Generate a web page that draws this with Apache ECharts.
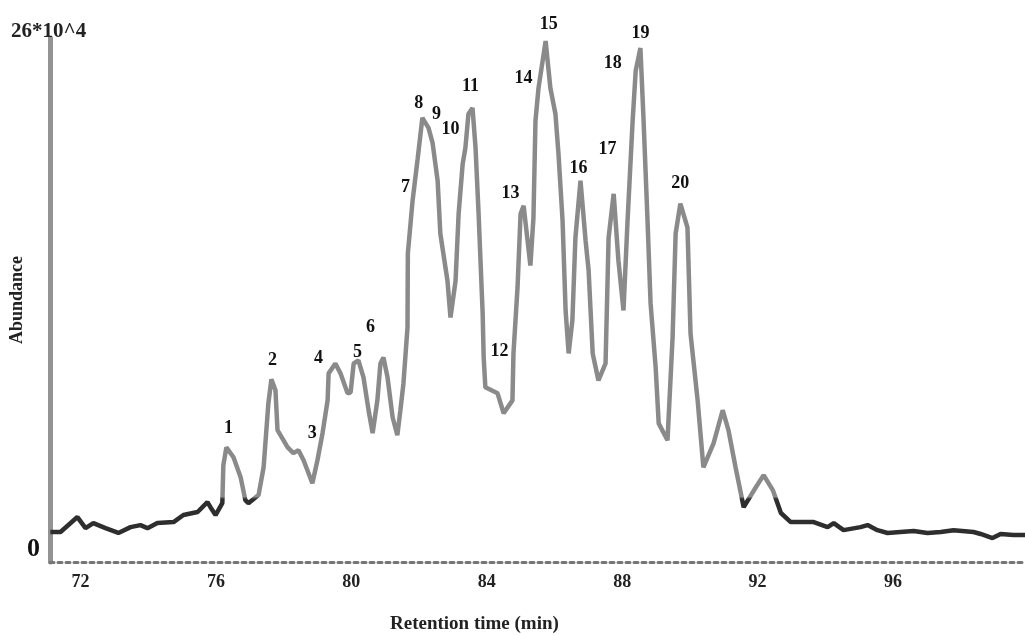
<!DOCTYPE html>
<html>
<head>
<meta charset="utf-8">
<style>
  html, body { margin: 0; padding: 0; background: #fff; }
  #main { width: 1025px; height: 635px; }
</style>
<script src="https://cdn.jsdelivr.net/npm/echarts@6/dist/echarts.min.js"></script>
</head>
<body>
<div id="main"></div>
<script>
// retention time (min) and abundance (x10^4)
var retentionTime = [
  71.11, 71.41, 71.91, 72.15, 72.38, 72.74, 73.12, 73.48, 73.77, 73.98,
  74.27, 74.75, 75.04, 75.46, 75.75, 75.84, 75.99, 76.19, 76.22, 76.31,
  76.52, 76.73, 76.87, 76.96, 77.26, 77.41, 77.55, 77.64, 77.76, 77.82,
  78.12, 78.29, 78.44, 78.59, 78.85, 79.0, 79.15, 79.3, 79.33, 79.53,
  79.68, 79.89, 79.98, 80.07, 80.21, 80.36, 80.51, 80.63, 80.77, 80.86,
  80.95, 81.07, 81.22, 81.36, 81.45, 81.54, 81.66, 81.67, 81.81, 81.96,
  82.1, 82.28, 82.4, 82.55, 82.63, 82.84, 82.93, 83.08, 83.17, 83.29,
  83.37, 83.46, 83.58, 83.67, 83.76, 83.88, 83.91, 83.96, 84.32, 84.5,
  84.76, 84.79, 84.91, 85.0, 85.09, 85.29, 85.38, 85.44, 85.53, 85.74,
  85.88, 86.03, 86.12, 86.24, 86.33, 86.42, 86.53, 86.62, 86.77, 86.92,
  87.01, 87.13, 87.3, 87.51, 87.6, 87.75, 87.89, 88.04, 88.16, 88.31,
  88.4, 88.54, 88.63, 88.75, 88.84, 88.99, 89.08, 89.34, 89.49, 89.58,
  89.72, 89.93, 90.02, 90.23, 90.4, 90.7, 90.97, 91.14, 91.35, 91.59,
  91.95, 92.18, 92.45, 92.69, 92.98, 93.28, 93.66, 94.07, 94.25, 94.54,
  95.04, 95.25, 95.54, 95.84, 96.22, 96.61, 97.02, 97.41, 97.79, 98.38,
  98.59, 98.94, 99.18, 99.56, 99.9
];
var abundance = [
  1.49, 1.49, 2.23, 1.68, 1.93, 1.68, 1.44, 1.73, 1.83, 1.68,
  1.93, 1.98, 2.33, 2.48, 2.97, 2.72, 2.33, 2.92, 4.8, 5.69,
  5.2, 4.21, 3.07, 2.92, 3.32, 4.7, 7.87, 9.06, 8.52, 6.54,
  5.69, 5.4, 5.55, 5.05, 3.91, 5.05, 6.39, 8.02, 9.36, 9.85,
  9.36, 8.37, 8.42, 9.85, 10.0, 9.16, 7.53, 6.39, 8.02, 9.85,
  10.15, 9.16, 7.18, 6.29, 7.53, 8.86, 11.64, 15.3, 17.93, 20.01,
  22.04, 21.54, 20.8, 18.92, 16.29, 13.96, 12.13, 13.96, 17.28, 19.76,
  20.55, 22.23, 22.53, 20.55, 17.28, 12.33, 10.15, 8.67, 8.37, 7.38,
  8.02, 10.35, 13.62, 17.28, 17.68, 14.71, 17.08, 21.89, 23.52, 25.85,
  23.52, 22.23, 20.25, 16.94, 12.48, 10.35, 11.98, 16.09, 18.92, 15.95,
  14.46, 10.35, 9.01, 9.85, 16.09, 18.27, 14.96, 12.48, 16.94, 21.89,
  24.36, 25.5, 22.04, 16.94, 12.83, 9.66, 6.88, 6.04, 11.14, 16.29,
  17.78, 16.59, 11.34, 8.02, 4.7, 5.89, 7.53, 6.54, 4.7, 2.72,
  3.71, 4.31, 3.57, 2.43, 1.98, 1.98, 1.98, 1.73, 1.93, 1.58,
  1.73, 1.83, 1.58, 1.44, 1.49, 1.54, 1.44, 1.49, 1.58, 1.49,
  1.39, 1.19, 1.39, 1.34, 1.34
];

// peak numbers and where their labels sit
var peakNames = ['1', '2', '3', '4', '5', '6', '7', '8', '9', '10',
  '11', '12', '13', '14', '15', '16', '17', '18', '19', '20'];
var peakLabelTime = [76.37, 77.67, 78.85, 79.03, 80.18, 80.57, 81.6, 81.99, 82.52, 82.93,
  83.52, 84.38, 84.7, 85.09, 85.83, 86.71, 87.57, 87.72, 88.54, 89.72];
var peakLabelHeight = [6.64, 10.0, 6.39, 10.1, 10.4, 11.64, 18.57, 22.78, 22.23, 21.49,
  23.62, 10.45, 18.27, 24.02, 26.69, 19.51, 20.5, 24.76, 26.25, 18.77];

var xTicks = [72, 76, 80, 84, 88, 92, 96];

var serif = '"Liberation Serif", "DejaVu Serif", serif';

var trace = retentionTime.map(function (t, i) { return [t, abundance[i]]; });
var peaks = peakNames.map(function (n, i) {
  return { name: n, value: [peakLabelTime[i], peakLabelHeight[i]] };
});

// baseline part of the trace is darker than the peaks
var traceColor = new echarts.graphic.LinearGradient(0, 562, 0, 38, [
  { offset: 0, color: '#2e2e2e' },
  { offset: 0.12, color: '#2e2e2e' },
  { offset: 0.125, color: '#8a8a8a' },
  { offset: 1, color: '#8a8a8a' }
], true);

var chart = echarts.init(document.getElementById('main'));
var option = {
  animation: false,
  backgroundColor: '#fff',
  title: [
    {
      text: '26*10^4', left: 6, top: 16,
      textStyle: { fontFamily: serif, fontSize: 21, fontWeight: 'bold', color: '#222' }
    },
    {
      text: 'Retention time (min)', left: 385, top: 610,
      textStyle: { fontFamily: serif, fontSize: 19, fontWeight: 'bold', color: '#222' }
    }
  ],
  grid: {
    left: 50, right: 0, top: 38, bottom: 73,
    containLabel: false,
    outerBoundsMode: 'none'
  },
  xAxis: {
    type: 'value',
    min: 71.1,
    max: 99.9,
    axisLine: { lineStyle: { color: '#777', width: 3, type: [4, 4] } },
    axisTick: { show: false },
    splitLine: { show: false },
    axisLabel: {
      customValues: xTicks,
      margin: 11,
      fontFamily: serif, fontSize: 18, fontWeight: 'bold', color: '#222'
    }
  },
  yAxis: {
    type: 'value',
    min: 0,
    max: 26,
    interval: 26,
    name: 'Abundance',
    nameLocation: 'middle',
    nameGap: 24,
    nameMoveOverlap: false,
    nameTextStyle: { fontFamily: serif, fontSize: 18, fontWeight: 'bold', color: '#222' },
    axisLine: { show: true, lineStyle: { color: '#939393', width: 5 } },
    axisTick: { show: false },
    splitLine: { show: false },
    axisLabel: {
      margin: 10,
      verticalAlign: 'bottom',
      fontFamily: serif, fontSize: 26, fontWeight: 'bold', color: '#111',
      formatter: function (v) { return v === 0 ? '0' : ''; }
    }
  },
  series: [
    {
      type: 'line',
      data: trace,
      showSymbol: false,
      lineStyle: { width: 4.5, color: traceColor },
      z: 2
    },
    {
      type: 'scatter',
      data: peaks,
      symbolSize: 0.1,
      clip: false,
      itemStyle: { color: '#111', opacity: 1 },
      label: {
        show: true,
        position: 'inside',
        formatter: '{b}',
        fontFamily: serif, fontSize: 18, fontWeight: 'bold', color: '#111',
        textBorderWidth: 0
      },
      z: 3
    }
  ]
};
chart.setOption(option);
</script>
</body>
</html>
